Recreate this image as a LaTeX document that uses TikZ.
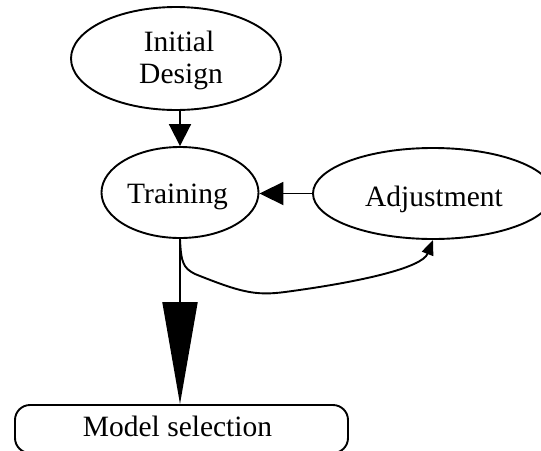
\documentclass[tikz,border=0pt]{standalone}
\usepackage{fontspec}
\setmainfont{Liberation Serif}
\usetikzlibrary{shapes.geometric,arrows.meta}
\begin{document}
\begin{tikzpicture}[x=1pt,y=-1pt,
  txt/.style={font=\fontsize{29.5}{33}\selectfont,anchor=base,inner sep=0pt},
  oval/.style={draw,ellipse,line width=1.9pt,inner sep=0pt},
  roundbox/.style={draw,rectangle,rounded corners=15pt,line width=1.9pt,inner sep=0pt},
  conn/.style={line width=1.9pt}]
\useasboundingbox (0,0) rectangle (541,450);
\node[oval,minimum width=210pt,minimum height=103pt] (init) at (176,58.5) {};
\node[oval,minimum width=157pt,minimum height=91pt] (train) at (180,192.5) {};
\node[oval,minimum width=240pt,minimum height=91pt] (adj) at (433,193.5) {};
\node[roundbox,minimum width=333pt,minimum height=48pt] (model) at (181.5,429) {};
\node[txt] (initA) at (179,51.7) {Initial};
\node[txt] (initB) at (181,83.3) {Design};
\node[txt] (trainT) at (177.5,203.3) {Training};
\node[txt] (adjT) at (434,206.7) {Adjustment};
\node[txt] (modelT) at (177.5,436.7) {Model selection};
\draw[conn,-{Triangle[length=22pt,width=22pt]}] (init.south -| train.south) -- (train.north);
\draw[conn,-{Triangle[length=24pt,width=23pt]}] (adj.west) -- (adj.west -| train.east);
\draw[conn,-{Triangle[length=102pt,width=35pt]}] (train.south) -- (train.south |- model.north);
\draw[conn,-{Triangle[length=15pt,width=12pt]}] (train.south)
  .. controls (181,262) and (183,268) .. (195,274)
  .. controls (240,292) and (255,296) .. (285,292)
  .. controls (360,282) and (422,268) .. (adj.south);
\end{tikzpicture}
\end{document}
